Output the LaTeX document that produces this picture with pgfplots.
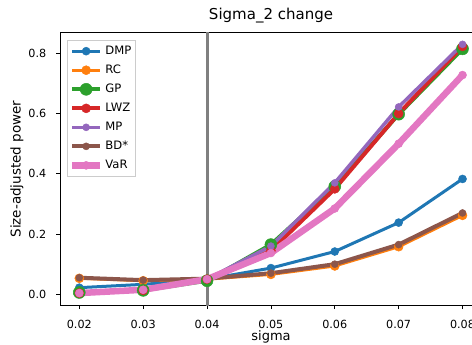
\documentclass[border=0pt]{standalone}
\usepackage{pgfplots}
\pgfplotsset{compat=1.18}
\usepackage{fontspec}
\setmainfont{DejaVu Sans}

% matplotlib default palette
\definecolor{c0}{HTML}{1F77B4}
\definecolor{c1}{HTML}{FF7F0E}
\definecolor{c2}{HTML}{2CA02C}
\definecolor{c3}{HTML}{D62728}
\definecolor{c4}{HTML}{9467BD}
\definecolor{c5}{HTML}{8C564B}
\definecolor{c6}{HTML}{E377C2}

\pgfplotstableread{
sigma  DMP    RC     GP     LWZ    MP     BD     VaR
0.02   0.022  0.053  0.006  0.004  0.004  0.055  0.004
0.03   0.033  0.045  0.013  0.013  0.014  0.047  0.015
0.04   0.050  0.050  0.045  0.050  0.050  0.052  0.050
0.05   0.087  0.066  0.165  0.145  0.160  0.070  0.137
0.06   0.142  0.094  0.358  0.350  0.370  0.100  0.285
0.07   0.238  0.158  0.598  0.600  0.622  0.165  0.500
0.08   0.383  0.262  0.815  0.823  0.830  0.270  0.728
}\powertab

\begin{document}
\begin{tikzpicture}
\useasboundingbox (0,0) rectangle (472pt,345pt);
\begin{axis}[
  at={(60pt,39.3pt)}, anchor=south west,
  scale only axis, width=422pt, height=273.4pt,
  xmin=0.01698, xmax=0.08305,
  ymin=-0.0379, ymax=0.870,
  axis line style={line width=0.8pt},
  tick align=outside, major tick length=3.5pt,
  every tick/.style={black, line width=0.8pt},
  xtick={0.02,0.03,0.04,0.05,0.06,0.07,0.08},
  xticklabels={0.02,0.03,0.04,0.05,0.06,0.07,0.08},
  ytick={0,0.2,0.4,0.6,0.8},
  yticklabels={0.0,0.2,0.4,0.6,0.8},
  xtick pos=bottom, ytick pos=left,
  tick label style={font=\fontsize{11.2}{13}\selectfont},
  xticklabel style={anchor=base, yshift=-19.3pt, inner sep=0pt},
  yticklabel style={anchor=east, xshift=-10pt, inner sep=0pt},
  xlabel={sigma},
  xlabel style={at={(axis description cs:0.5,-0.1291)}, anchor=base, inner sep=0pt,
    font=\fontsize{13}{15}\selectfont},
  ylabel={Size-adjusted power},
  ylabel style={at={(axis description cs:-0.1019,0.5)}, anchor=center,
    font=\fontsize{13.5}{15}\selectfont},
  title={Sigma\_2 change},
  title style={at={(axis description cs:0.5,1)}, anchor=base, yshift=7pt, inner sep=0pt,
    font=\fontsize{15}{17}\selectfont},
  legend cell align=left,
  legend style={at={(0.0159,0.9718)}, anchor=north west,
    draw=black!20, fill=white,
    font=\fontsize{11.6}{13}\selectfont, row sep=5pt,
    inner xsep=2pt, inner ysep=4pt},
  legend image code/.code={
    \draw[mark repeat=2, mark phase=2, #1] plot coordinates {(0pt,0pt) (14pt,0pt) (28pt,0pt)};
  },
]
% reference level sigma = 0.04
\addplot[gray, line width=3pt, forget plot] coordinates {(0.04,-0.0379) (0.04,0.870)};

\addplot[c0, line width=3pt, mark=*, mark size=4pt, mark options={solid, fill=c0, draw=c0, line width=0.5pt}] table[x=sigma, y=DMP] {\powertab};
\addlegendentry{DMP}
\addplot[c1, line width=3pt, mark=*, mark size=4.5pt, mark options={solid, fill=c1, draw=c1, line width=0.5pt}] table[x=sigma, y=RC] {\powertab};
\addlegendentry{RC}
\addplot[c2, line width=4pt, mark=*, mark size=6pt, mark options={solid, fill=c2, draw=c2, line width=0.5pt}] table[x=sigma, y=GP] {\powertab};
\addlegendentry{GP}
\addplot[c3, line width=4pt, mark=*, mark size=4.5pt, mark options={solid, fill=c3, draw=c3, line width=0.5pt}] table[x=sigma, y=LWZ] {\powertab};
\addlegendentry{LWZ}
\addplot[c4, line width=3.5pt, mark=*, mark size=3.5pt, mark options={solid, fill=c4, draw=c4, line width=0.5pt}] table[x=sigma, y=MP] {\powertab};
\addlegendentry{MP}
\addplot[c5, line width=4pt, mark=*, mark size=3.5pt, mark options={solid, fill=c5, draw=c5, line width=0.5pt}] table[x=sigma, y=BD] {\powertab};
\addlegendentry{BD*}
\addplot[c6, line width=6.5pt, mark=*, mark size=4pt, mark options={solid, fill=c6, draw=c6, line width=0.5pt}] table[x=sigma, y=VaR] {\powertab};
\addlegendentry{VaR}
\end{axis}
\end{tikzpicture}
\end{document}
